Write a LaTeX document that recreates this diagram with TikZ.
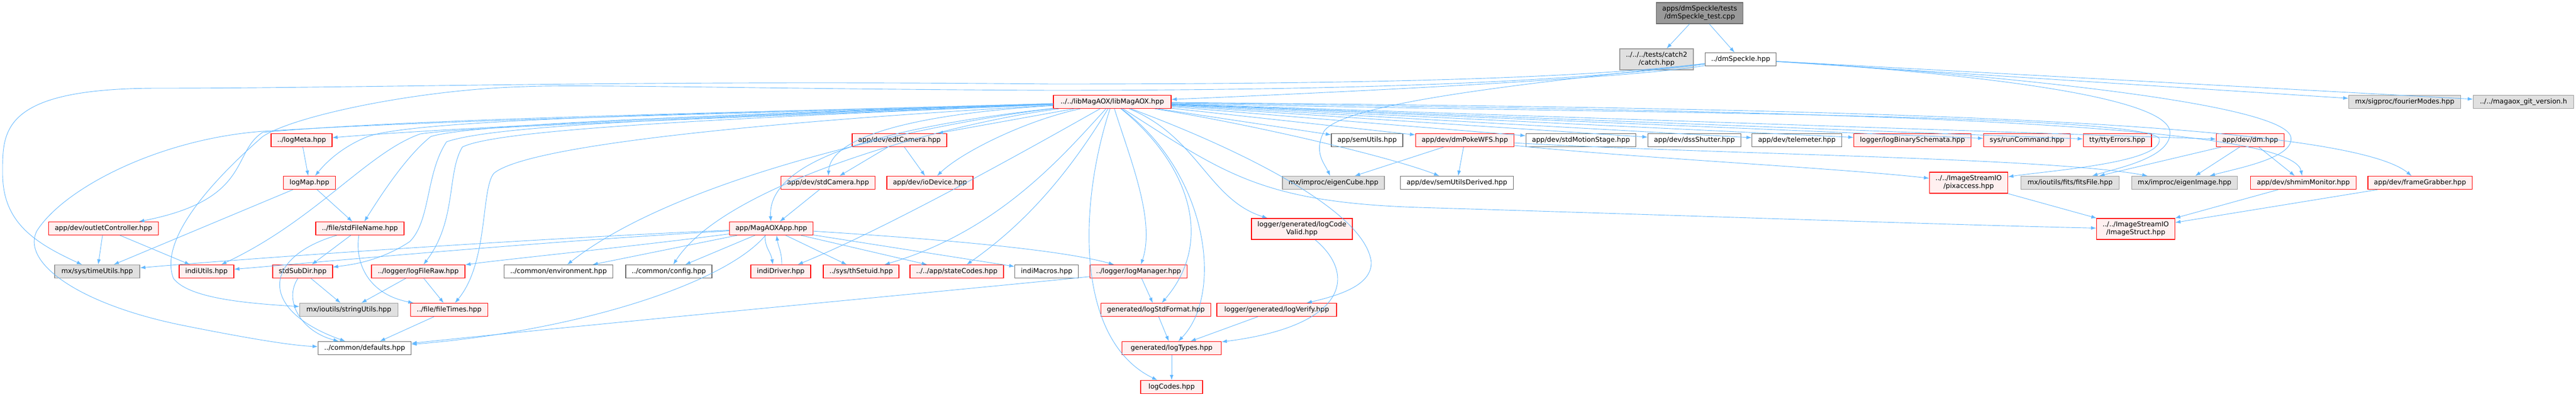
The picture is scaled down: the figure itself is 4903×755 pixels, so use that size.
\documentclass[tikz,border=0pt]{standalone}
\usepackage{fontspec}
\setmainfont{DejaVu Sans}
\usetikzlibrary{arrows.meta}
\definecolor{edgeblue}{HTML}{63B8FF}
\definecolor{redfill}{HTML}{FFF0F0}
\definecolor{redline}{HTML}{FF0000}
\definecolor{greyfill}{HTML}{E0E0E0}
\definecolor{greyline}{HTML}{999999}
\definecolor{darkline}{HTML}{666666}
\definecolor{rootfill}{HTML}{999999}
\tikzset{
	hdr/.style={draw, line width=1.3pt, inner xsep=5.5pt, inner ysep=0pt, minimum height=25pt,
		font=\fontsize{12.9}{15}\selectfont},
	hdrred/.style={hdr, draw=redline, fill=redfill},
	hdrgrey/.style={hdr, draw=greyline, fill=greyfill},
	hdrwhite/.style={hdr, draw=darkline, fill=white},
	hdrroot/.style={hdr, draw=darkline, fill=rootfill},
	tall/.style={minimum height=40pt},
	incl/.style={->, draw=edgeblue, line width=0.9pt}
}
\newcommand{\hfile}[5]{
	\node [#1, minimum width=#4pt] (#2) at (#3) {\begin{tabular}{c}#5\end{tabular}};}

\begin{document}
\begin{tikzpicture}[x=1pt,y=-1pt,>={Latex[length=10pt,width=7pt]}]
	\useasboundingbox (0,0) rectangle (4903,755);
	% files
	\hfile{hdrroot,tall}{test}{3235,25}{165}{apps/dmSpeckle/tests\\/dmSpeckle\_test.cpp}
	\hfile{hdrgrey,tall}{catch}{3153,113}{137}{../../../tests/catch2\\/catch.hpp}
	\hfile{hdrwhite}{dmspeckle}{3313,113}{133}{../dmSpeckle.hpp}
	\hfile{hdrred}{libmagaox}{2117,194}{224}{../../libMagAOX/libMagAOX.hpp}
	\hfile{hdrgrey}{fourier}{4577,194}{213}{mx/sigproc/fourierModes.hpp}
	\hfile{hdrgrey}{gitver}{4803,194}{191}{../../magaox\_git\_version.h}
	\hfile{hdrred}{logmeta}{574,267}{115}{../logMeta.hpp}
	\hfile{hdrred}{edtcam}{1712,267}{179}{app/dev/edtCamera.hpp}
	\hfile{hdrwhite}{semutils}{2602,267}{136}{app/semUtils.hpp}
	\hfile{hdrred}{dmpoke}{2788,267}{187}{app/dev/dmPokeWFS.hpp}
	\hfile{hdrwhite}{motion}{3009,267}{208}{app/dev/stdMotionStage.hpp}
	\hfile{hdrwhite}{shutter}{3225,267}{176}{app/dev/dssShutter.hpp}
	\hfile{hdrwhite}{telem}{3420,267}{169}{app/dev/telemeter.hpp}
	\hfile{hdrred}{binschema}{3640,267}{223}{logger/logBinarySchemata.hpp}
	\hfile{hdrred}{runcmd}{3858,267}{163}{sys/runCommand.hpp}
	\hfile{hdrred}{ttyerr}{4030,267}{129}{tty/ttyErrors.hpp}
	\hfile{hdrred}{dm}{4283,267}{126}{app/dev/dm.hpp}
	\hfile{hdrred}{logmap}{589,348}{99}{logMap.hpp}
	\hfile{hdrred}{stdcam}{1576,348}{179}{app/dev/stdCamera.hpp}
	\hfile{hdrred}{iodev}{1770,348}{163}{app/dev/ioDevice.hpp}
	\hfile{hdrgrey}{eigencube}{2538,348}{194}{mx/improc/eigenCube.hpp}
	\hfile{hdrwhite}{semderived}{2773,348}{215}{app/dev/semUtilsDerived.hpp}
	\hfile{hdrred,tall}{pixaccess}{3747,348}{147}{../../ImageStreamIO\\/pixaccess.hpp}
	\hfile{hdrgrey}{fitsfile}{3940,348}{187}{mx/ioutils/fits/fitsFile.hpp}
	\hfile{hdrgrey}{eigenimage}{4158,348}{201}{mx/improc/eigenImage.hpp}
	\hfile{hdrred}{shmim}{4384,348}{201}{app/dev/shmimMonitor.hpp}
	\hfile{hdrred}{framegrab}{4606,348}{197}{app/dev/frameGrabber.hpp}
	\hfile{hdrred}{outlet}{197,435}{207}{app/dev/outletController.hpp}
	\hfile{hdrred}{stdfilename}{685,435}{168}{../file/stdFileName.hpp}
	\hfile{hdrred}{magaoxapp}{1468,435}{159}{app/MagAOXApp.hpp}
	\hfile{hdrred,tall}{codevalid}{2478,436}{191}{logger/generated/logCode\\Valid.hpp}
	\hfile{hdrred,tall}{imagestruct}{4065,436}{147}{../../ImageStreamIO\\/ImageStruct.hpp}
	\hfile{hdrgrey}{timeutils}{185,517}{162}{mx/sys/timeUtils.hpp}
	\hfile{hdrred}{indiutils}{393,517}{104}{indiUtils.hpp}
	\hfile{hdrred}{stdsubdir}{576,517}{113}{stdSubDir.hpp}
	\hfile{hdrred}{logfileraw}{796,517}{178}{../logger/logFileRaw.hpp}
	\hfile{hdrwhite}{environment}{1063,517}{207}{../common/environment.hpp}
	\hfile{hdrwhite}{config}{1273,517}{163}{../common/config.hpp}
	\hfile{hdrred}{indidriver}{1486,517}{114}{indiDriver.hpp}
	\hfile{hdrred}{thsetuid}{1639,517}{143}{../sys/thSetuid.hpp}
	\hfile{hdrred}{statecodes}{1821,517}{176}{../../app/stateCodes.hpp}
	\hfile{hdrwhite}{indimacros}{1992,517}{121}{indiMacros.hpp}
	\hfile{hdrred}{logmanager}{2167,517}{184}{../logger/logManager.hpp}
	\hfile{hdrgrey}{stringutils}{664,590}{187}{mx/ioutils/stringUtils.hpp}
	\hfile{hdrred}{filetimes}{855,590}{147}{../file/fileTimes.hpp}
	\hfile{hdrred}{stdformat}{2200,590}{208}{generated/logStdFormat.hpp}
	\hfile{hdrred}{logverify}{2430,590}{228}{logger/generated/logVerify.hpp}
	\hfile{hdrwhite}{defaults}{694,663}{177}{../common/defaults.hpp}
	\hfile{hdrred}{logtypes}{2230,663}{189}{generated/logTypes.hpp}
	\hfile{hdrred}{logcodes}{2230,737}{118}{logCodes.hpp}
	% test file
	\draw [incl] (test) -- (catch);
	\draw [incl] (test) -- (dmspeckle);
	% dmSpeckle.hpp
	\draw [incl] (dmspeckle) .. controls (3100,150) and (2500,178) .. (libmagaox);
	\draw [incl] (dmspeckle) .. controls (3000,150) and (2600,160) .. (2000,160) .. controls (1200,152) and (700,168) .. (300,168) .. controls (0,168) and (5,250) .. (5,330) .. controls (5,420) and (60,460) .. (timeutils);
	\draw [incl] (dmspeckle) .. controls (3000,155) and (2600,172) .. (2000,172) .. controls (1500,170) and (1100,160) .. (1000,165) .. controls (800,170) and (560,220) .. (500,260) .. controls (420,330) and (300,450) .. (330,530) .. controls (360,570) and (480,578) .. (stringutils);
	\draw [incl] (dmspeckle) .. controls (3000,150) and (2560,190) .. (2520,250) .. controls (2500,290) and (2520,310) .. (eigencube);
	\draw [incl] (dmspeckle) .. controls (3600,130) and (4120,170) .. (4130,250) .. controls (4135,300) and (4030,320) .. (fitsfile);
	\draw [incl] (dmspeckle) .. controls (3700,135) and (4340,190) .. (4360,260) .. controls (4370,300) and (4260,320) .. (eigenimage);
	\draw [incl] (dmspeckle) -- (fourier);
	\draw [incl] (dmspeckle) -- (gitver);
	% libMagAOX.hpp, left side
	\draw [incl] (libmagaox) .. controls (1500,215) and (900,240) .. (logmeta);
	\draw [incl] (libmagaox) .. controls (1400,215) and (800,225) .. (700,260) .. controls (650,280) and (620,310) .. (logmap);
	\draw [incl] (libmagaox) .. controls (1400,218) and (900,235) .. (820,260) .. controls (770,300) and (720,380) .. (stdfilename);
	\draw [incl] (libmagaox) .. controls (1400,222) and (950,235) .. (850,270) .. controls (810,330) and (820,420) .. (780,460) .. controls (720,500) and (660,505) .. (stdsubdir);
	\draw [incl] (libmagaox) .. controls (1400,225) and (950,245) .. (880,280) .. controls (850,330) and (870,420) .. (logfileraw);
	\draw [incl] (libmagaox) .. controls (1400,235) and (1000,280) .. (940,330) .. controls (915,360) and (930,500) .. (filetimes);
	\draw [incl] (libmagaox) .. controls (1400,225) and (900,240) .. (800,255) .. controls (700,290) and (600,420) .. (indiutils);
	\draw [incl] (libmagaox) .. controls (1400,215) and (800,225) .. (500,252) .. controls (440,290) and (480,380) .. (outlet);
	\draw [incl] (libmagaox) .. controls (1500,215) and (900,225) .. (500,250) .. controls (300,265) and (120,360) .. (70,440) .. controls (40,500) and (150,580) .. (350,620) .. controls (450,640) and (550,658) .. (defaults);
	\draw [incl] (libmagaox) -- (edtcam);
	\draw [incl] (libmagaox) .. controls (1700,220) and (1580,270) .. (stdcam);
	\draw [incl] (libmagaox) .. controls (1950,230) and (1830,290) .. (iodev);
	\draw [incl] (libmagaox) .. controls (1700,240) and (1460,300) .. (magaoxapp);
	\draw [incl] (libmagaox) .. controls (1800,230) and (1300,330) .. (environment);
	\draw [incl] (libmagaox) .. controls (1800,235) and (1380,350) .. (config);
	\draw [incl] (libmagaox) .. controls (2000,260) and (1700,430) .. (indidriver);
	\draw [incl] (libmagaox) .. controls (2020,300) and (1900,440) .. (thsetuid);
	\draw [incl] (libmagaox) .. controls (2040,320) and (1960,420) .. (statecodes);
	% libMagAOX.hpp, below
	\draw [incl] (libmagaox) .. controls (2150,300) and (2200,420) .. (logmanager);
	\draw [incl] (libmagaox) .. controls (2280,260) and (2300,380) .. (codevalid);
	\draw [incl] (libmagaox) .. controls (2250,300) and (2320,450) .. (stdformat);
	\draw [incl] (libmagaox) .. controls (2350,280) and (2600,400) .. (2610,500) .. controls (2610,540) and (2560,560) .. (logverify);
	\draw [incl] (libmagaox) .. controls (2300,330) and (2330,560) .. (logtypes);
	\draw [incl] (libmagaox) .. controls (2050,400) and (2050,650) .. (logcodes);
	% libMagAOX.hpp, right side
	\draw [incl] (libmagaox) -- (semutils);
	\draw [incl] (libmagaox) -- (dmpoke);
	\draw [incl] (libmagaox) -- (motion);
	\draw [incl] (libmagaox) -- (shutter);
	\draw [incl] (libmagaox) -- (telem);
	\draw [incl] (libmagaox) -- (binschema);
	\draw [incl] (libmagaox) -- (runcmd);
	\draw [incl] (libmagaox) -- (ttyerr);
	\draw [incl] (libmagaox) -- (dm);
	\draw [incl] (libmagaox) .. controls (2400,240) and (2650,300) .. (semderived);
	\draw [incl] (libmagaox) .. controls (3000,215) and (4100,215) .. (4110,265) .. controls (4115,310) and (3900,325) .. (pixaccess);
	\draw [incl] (libmagaox) .. controls (3200,210) and (4360,220) .. (shmim);
	\draw [incl] (libmagaox) .. controls (3300,205) and (4450,220) .. (framegrab);
	\draw [incl] (libmagaox) .. controls (2330,330) and (2400,385) .. (2700,395) .. controls (3200,410) and (3700,428) .. (imagestruct);
	% MagAOXApp.hpp
	\draw [incl] (magaoxapp) .. controls (1000,455) and (500,490) .. (timeutils);
	\draw [incl] (magaoxapp) .. controls (1000,462) and (600,500) .. (indiutils);
	\draw [incl] (magaoxapp) .. controls (1200,470) and (950,495) .. (logfileraw);
	\draw [incl] (magaoxapp) -- (environment);
	\draw [incl] (magaoxapp) -- (config);
	\draw [incl] ([xshift=-12pt]magaoxapp.south) .. controls +(0,25) and +(-4,-25) .. ([xshift=-15pt]indidriver.north);
	\draw [incl] ([xshift=2pt]indidriver.north) .. controls +(0,-25) and +(4,25) .. ([xshift=10pt]magaoxapp.south);
	\draw [incl] (magaoxapp) -- (thsetuid);
	\draw [incl] (magaoxapp) -- (statecodes);
	\draw [incl] (magaoxapp) -- (indimacros);
	\draw [incl] (magaoxapp) .. controls (1700,450) and (2000,470) .. (logmanager);
	\draw [incl] (magaoxapp) .. controls (1380,540) and (1100,630) .. (defaults);
	% cameras
	\draw [incl] (edtcam) -- (stdcam);
	\draw [incl] (edtcam) -- (iodev);
	\draw [incl] (stdcam) -- (magaoxapp);
	% logger and file
	\draw [incl] (logmeta) -- (logmap);
	\draw [incl] (logmap) -- (stdfilename);
	\draw [incl] (logmap) -- (timeutils);
	\draw [incl] (stdfilename) -- (stdsubdir);
	\draw [incl] (stdfilename) .. controls (675,500) and (700,560) .. (filetimes);
	\draw [incl] (stdfilename) .. controls (500,490) and (490,590) .. (defaults);
	\draw [incl] (stdsubdir) -- (stringutils);
	\draw [incl] (stdsubdir) .. controls (540,570) and (570,630) .. (defaults);
	\draw [incl] (logfileraw) -- (stringutils);
	\draw [incl] (logfileraw) -- (filetimes);
	\draw [incl] (filetimes) -- (defaults);
	\draw [incl] (outlet) -- (timeutils);
	\draw [incl] (outlet) -- (indiutils);
	\draw [incl] (logmanager) .. controls (1900,545) and (1200,610) .. (defaults);
	\draw [incl] (logmanager) -- (stdformat);
	\draw [incl] (stdformat) -- (logtypes);
	\draw [incl] (logverify) -- (logtypes);
	\draw [incl] (codevalid) .. controls (2580,520) and (2570,620) .. (logtypes);
	\draw [incl] (logtypes) -- (logcodes);
	% devices and images
	\draw [incl] (dmpoke) -- (semderived);
	\draw [incl] (dmpoke) -- (eigencube);
	\draw [incl] (dmpoke) .. controls (3100,300) and (3500,320) .. (pixaccess);
	\draw [incl] (dmpoke) .. controls (3300,295) and (3900,300) .. (eigenimage);
	\draw [incl] (dm) -- (fitsfile);
	\draw [incl] (dm) -- (eigenimage);
	\draw [incl] (dm) -- (shmim);
	\draw [incl] (pixaccess) -- (imagestruct);
	\draw [incl] (shmim) -- (imagestruct);
	\draw [incl] (framegrab) -- (imagestruct);
\end{tikzpicture}
\end{document}
